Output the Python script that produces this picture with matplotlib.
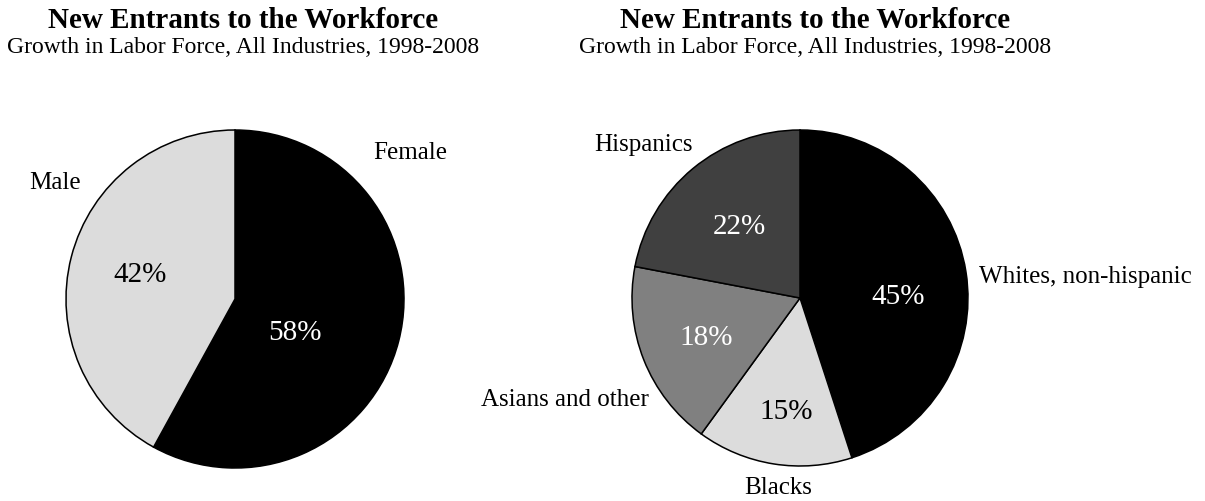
import matplotlib
matplotlib.use('Agg')
import matplotlib.pyplot as plt

# Labor force growth shares, 1998-2008
gender_labels = ["Female", "Male"]
gender_share = [58, 42]

ethnic_labels = ["Whites, non-hispanic", "Blacks", "Asians and other", "Hispanics"]
ethnic_share = [45, 15, 18, 22]

title = "New Entrants to the Workforce"
subtitle = "Growth in Labor Force, All Industries, 1998-2008"

# slice fills / percent text colours
gender_colors = ["#000000", "#dcdcdc"]
gender_pct_colors = ["white", "black"]
ethnic_colors = ["#000000", "#dcdcdc", "#808080", "#404040"]
ethnic_pct_colors = ["white", "black", "white", "white"]

# label placement in pie-radius units (x, y) from the pie centre
gender_name_pos = [(1.036, 0.864), (-1.062, 0.686)]
gender_pct_pos = [(0.355, -0.201), (-0.562, 0.142)]
ethnic_name_pos = [(1.699, 0.125), (-0.131, -1.131), (-1.402, -0.607), (-0.929, 0.911)]
ethnic_pct_pos = [(0.583, 0.006), (-0.083, -0.679), (-0.560, -0.238), (-0.363, 0.423)]

plt.rcParams['font.family'] = ['Liberation Serif', 'DejaVu Serif']

W, H = 1205, 501
fig = plt.figure(figsize=(W / 100, H / 100), dpi=100)


def pie_axes(cx, cy, r):
    # axes box in figure fraction so that a unit pie lands at (cx, cy) px
    ax = fig.add_axes([(cx - r) / W, (H - cy - r) / H, 2 * r / W, 2 * r / H])
    ax.axis('off')
    return ax


def draw_pie(ax, shares, colors, names, pct_colors, name_pos, pct_pos):
    ax.pie(shares, colors=colors, startangle=90, counterclock=False, radius=1,
           wedgeprops=dict(edgecolor='black', linewidth=1.1))
    # pie() resets the limits, so pin them afterwards
    ax.set_xlim(-1, 1)
    ax.set_ylim(-1, 1)
    for name, (x, y) in zip(names, name_pos):
        ax.text(x, y, name, ha='center', va='center', fontsize=18, color='black')
    for v, c, (x, y) in zip(shares, pct_colors, pct_pos):
        ax.text(x, y, f"{v}%", ha='center', va='center', fontsize=21, color=c)


def draw_titles(cx):
    fig.text(cx / W, (H - 28) / H, title, ha='center', va='baseline',
             fontsize=21, fontweight='bold')
    fig.text(cx / W, (H - 53) / H, subtitle, ha='center', va='baseline', fontsize=17)


ax1 = pie_axes(235, 299, 169)
draw_pie(ax1, gender_share, gender_colors, gender_labels, gender_pct_colors,
         gender_name_pos, gender_pct_pos)
draw_titles(243)

ax2 = pie_axes(800, 298, 168)
draw_pie(ax2, ethnic_share, ethnic_colors, ethnic_labels, ethnic_pct_colors,
         ethnic_name_pos, ethnic_pct_pos)
draw_titles(815)

fig.savefig('out.png', dpi=100, facecolor='white')
plt.close(fig)
